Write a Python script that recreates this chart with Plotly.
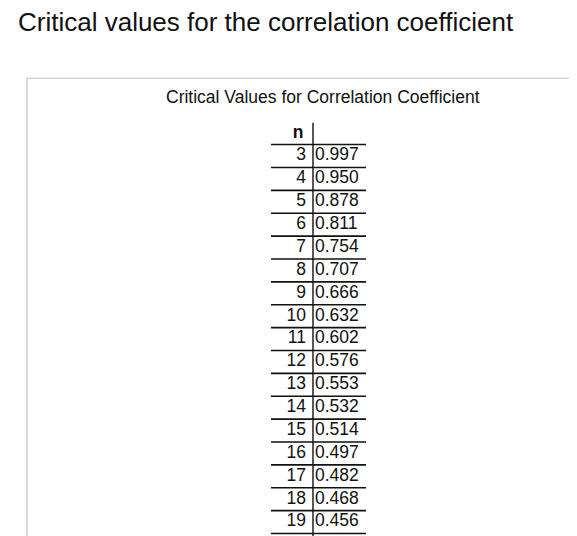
import plotly.graph_objects as go

n_values = [3, 4, 5, 6, 7, 8, 9, 10, 11, 12, 13, 14, 15, 16, 17, 18, 19]
critical_r = [0.997, 0.950, 0.878, 0.811, 0.754, 0.707, 0.666, 0.632, 0.602,
              0.576, 0.553, 0.532, 0.514, 0.497, 0.482, 0.468, 0.456]
page_title = "Critical values for the correlation coefficient"
table_title = "Critical Values for Correlation Coefficient"
header = "n"

FONT = "Liberation Sans, Arial, sans-serif"
rows = list(range(len(n_values)))

fig = go.Figure()
fig.add_trace(go.Scatter(x=[306] * len(rows), y=rows, mode="text",
                         text=[str(v) for v in n_values], textposition="middle left",
                         textfont=dict(family=FONT, size=17.5, color="#111"),
                         hoverinfo="skip", showlegend=False))
fig.add_trace(go.Scatter(x=[315] * len(rows), y=rows, mode="text",
                         text=[f"{v:.3f}" for v in critical_r], textposition="middle right",
                         textfont=dict(family=FONT, size=17.5, color="#111"),
                         hoverinfo="skip", showlegend=False))
fig.add_trace(go.Scatter(x=[298], y=[-1], mode="text", text=[f"<b>{header}</b>"],
                         textposition="middle center",
                         textfont=dict(family=FONT, size=17.5, color="#111"),
                         hoverinfo="skip", showlegend=False))

shapes = []
for i in [-1] + rows:
    shapes.append(dict(type="line", x0=271, x1=366, y0=i + 0.5, y1=i + 0.5,
                       xref="x", yref="y", line=dict(color="#111", width=1.6)))
shapes.append(dict(type="line", x0=313, x1=313, y0=-1.45, y1=17,
                   xref="x", yref="y", line=dict(color="#111", width=1.4)))
shapes.append(dict(type="rect", x0=27, x1=600, y0=-3.4, y1=17,
                   xref="x", yref="y", line=dict(color="#c4c4c4", width=1.2),
                   fillcolor="rgba(0,0,0,0)", layer="below"))
fig.update_layout(shapes=shapes)

fig.add_annotation(x=16, y=-5.85, xref="x", yref="y", text=page_title, showarrow=False,
                   xanchor="left", yanchor="middle",
                   font=dict(family=FONT, size=26, color="#111"))
fig.add_annotation(x=323, y=-2.6, xref="x", yref="y", text=table_title, showarrow=False,
                   xanchor="center", yanchor="middle",
                   font=dict(family=FONT, size=17.5, color="#111"))

fig.update_layout(
    width=577, height=536, margin=dict(l=0, r=0, t=0, b=0),
    paper_bgcolor="white", plot_bgcolor="white",
    xaxis=dict(range=[8, 585], visible=False, fixedrange=True),
    yaxis=dict(range=[16.96, -6.47], visible=False, fixedrange=True),
)
fig.write_html("out.html", config={"displayModeBar": False})
